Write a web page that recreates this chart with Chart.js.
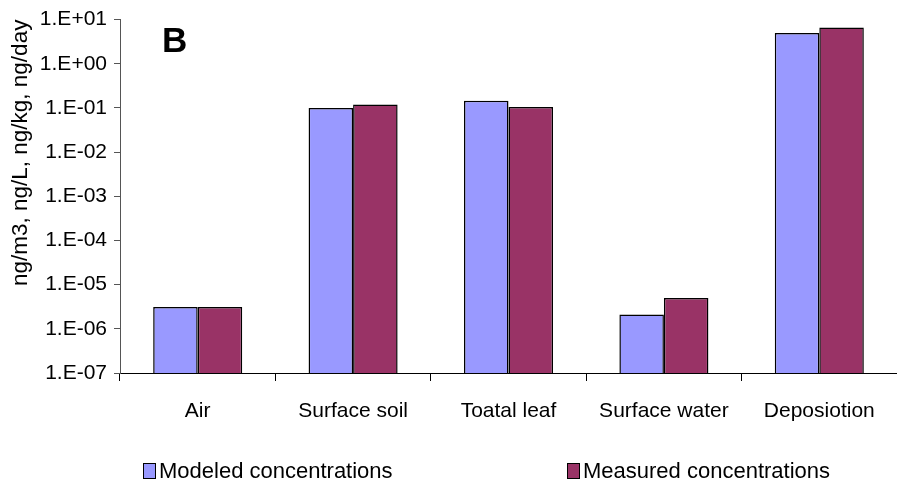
<!DOCTYPE html>
<html>
<head>
<meta charset="utf-8">
<script src="https://cdn.jsdelivr.net/npm/chart.js@4"></script>
<style>
  html, body { margin: 0; padding: 0; background: #fff; }
  #wrap { position: relative; width: 897px; height: 493px; }
  #panel { position: absolute; left: 162px; top: 20px; font: bold 35px Arial, "Liberation Sans", sans-serif; color: #000; }
  .leg { position: absolute; top: 458px; font: 22px Arial, "Liberation Sans", sans-serif; color: #000; display: flex; align-items: center; }
  .leg span.box { display: inline-block; width: 11px; height: 14px; border: 1px solid #000; margin-right: 3px; }
</style>
</head>
<body>
<div id="wrap">
  <canvas id="chart" width="897" height="493"></canvas>
  <div id="panel">B</div>
  <div class="leg" style="left:143px"><span class="box" style="background:#9999FF"></span>Modeled concentrations</div>
  <div class="leg" style="left:567px"><span class="box" style="background:#993366"></span>Measured concentrations</div>
</div>
<script>
// categories and values
const categories = ['Air', 'Surface soil', 'Toatal leaf', 'Surface water', 'Deposiotion'];
const modeled = [3.1e-6, 1.0e-1, 1.45e-1, 2.1e-6, 5.0];
const measured = [3.1e-6, 1.2e-1, 1.05e-1, 5.0e-6, 6.6];
const yTicks = [1e-7, 1e-6, 1e-5, 1e-4, 1e-3, 1e-2, 1e-1, 1e0, 1e1];

// 1e-3 -> "1.E-03"
function sciLabel(v) {
  const e = Math.round(Math.log10(v));
  const sign = e < 0 ? '-' : '+';
  return '1.E' + sign + String(Math.abs(e)).padStart(2, '0');
}

const font = 'Arial, "Liberation Sans", sans-serif';

new Chart(document.getElementById('chart'), {
  type: 'bar',
  data: {
    labels: categories,
    datasets: [
      { label: 'Modeled concentrations', data: modeled, backgroundColor: '#9999FF', borderColor: '#000', borderWidth: 1.5 },
      { label: 'Measured concentrations', data: measured, backgroundColor: '#993366', borderColor: '#000', borderWidth: 1.5 }
    ]
  },
  options: {
    responsive: false,
    animation: false,
    categoryPercentage: 0.573,
    barPercentage: 1.0,
    layout: { padding: { top: 17, right: 0, bottom: 60, left: 0 } },
    plugins: {
      legend: { display: false },
      tooltip: { enabled: false }
    },
    scales: {
      x: {
        grid: { drawOnChartArea: false, drawTicks: true, tickLength: 8, color: '#000' },
        border: { color: '#000', width: 1 },
        ticks: { color: '#000', font: { family: font, size: 21 }, padding: 18, maxRotation: 0 },
        afterFit: (s) => { s.height = 60; }
      },
      y: {
        type: 'logarithmic',
        min: 1e-7,
        max: 1e1,
        afterBuildTicks: (s) => { s.ticks = yTicks.map(v => ({ value: v })); },
        grid: { drawOnChartArea: false, drawTicks: true, tickLength: 6, color: '#555' },
        border: { color: '#555', width: 1 },
        ticks: { color: '#000', font: { family: font, size: 21 }, padding: 7, callback: (v) => sciLabel(v) },
        title: { display: true, text: 'ng/m3, ng/L, ng/kg, ng/day', align: 'end', color: '#000', font: { family: font, size: 22.5 }, padding: { top: 7, bottom: 0 } },
        afterFit: (s) => { s.width = 120; }
      }
    }
  }
});
</script>
</body>
</html>
